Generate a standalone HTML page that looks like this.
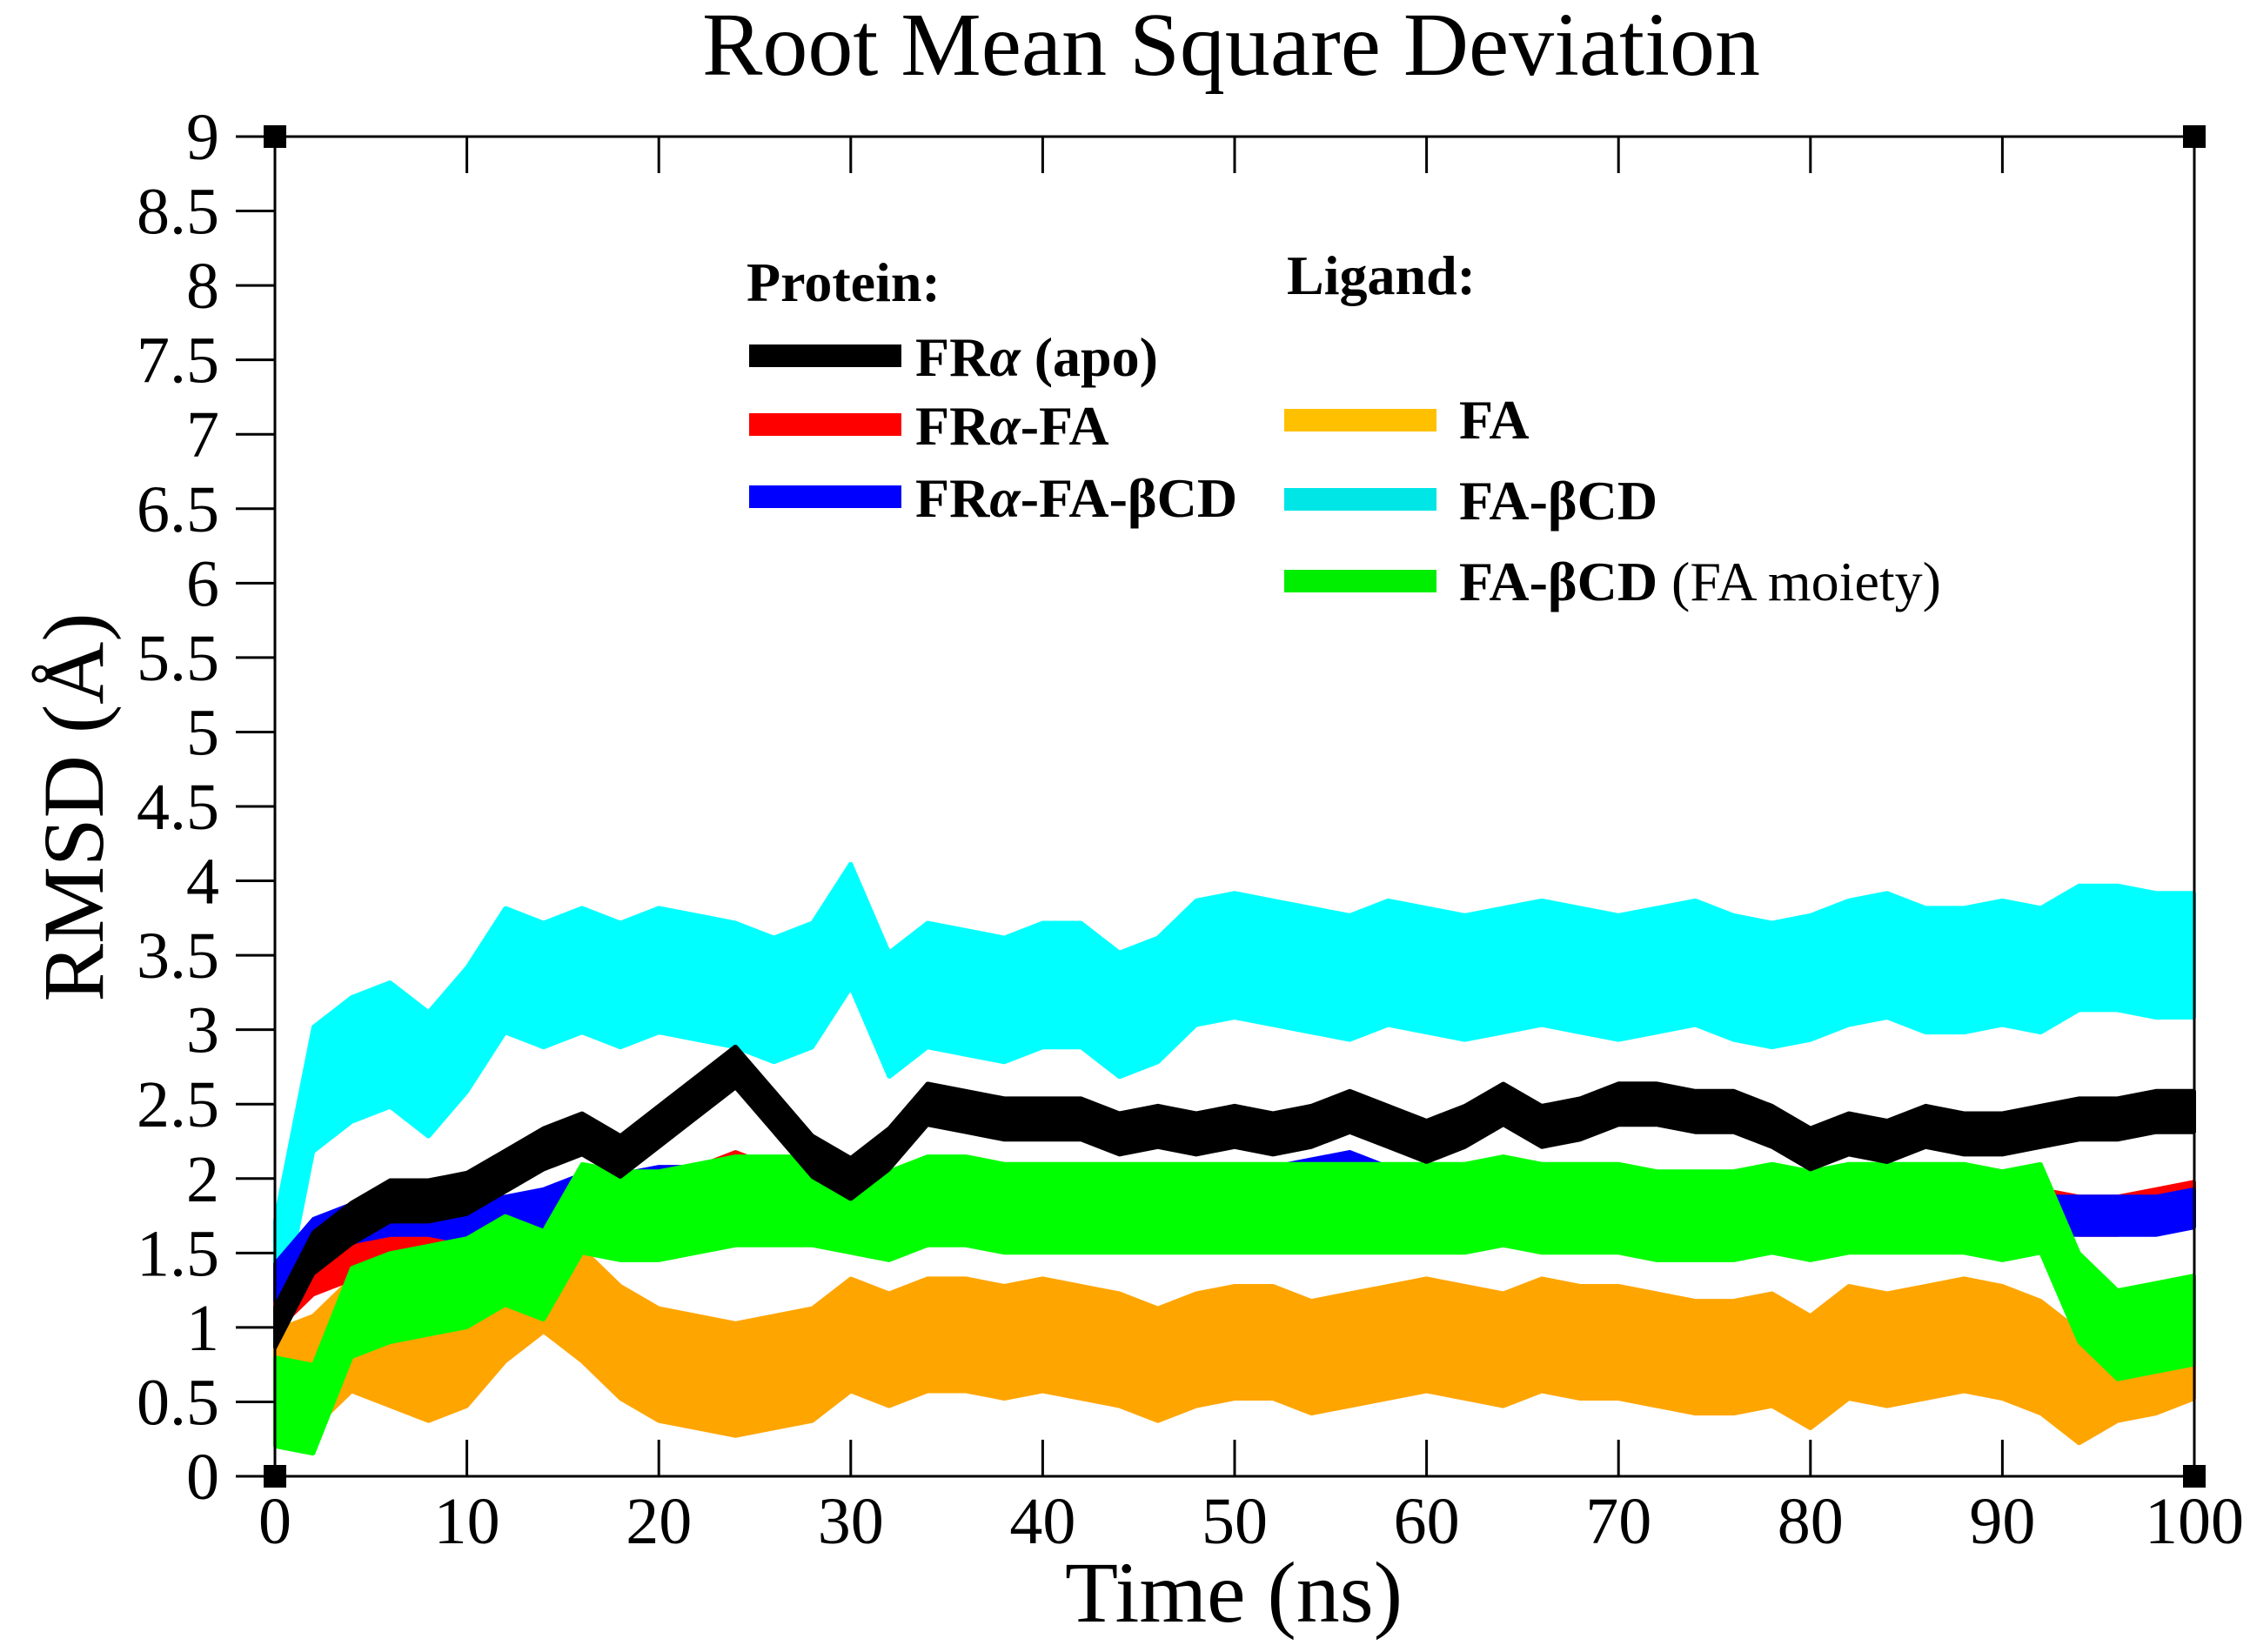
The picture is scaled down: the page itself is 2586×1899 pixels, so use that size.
<!DOCTYPE html>
<html><head><meta charset="utf-8"><style>
html,body{margin:0;padding:0;background:#fff}
svg{display:block}
text{font-family:"Liberation Serif",serif;fill:#000}
</style></head><body>
<svg id="chart" width="2586" height="1899" viewBox="0 0 2586 1899" xmlns="http://www.w3.org/2000/svg">
<text x="1415" y="86" font-size="104" text-anchor="middle">Root Mean Square Deviation</text>
<g id="series"></g>
<g id="axes"></g>
<text x="1418" y="1864" font-size="100" text-anchor="middle">Time (ns)</text>
<text transform="translate(118,928) rotate(-90)" font-size="100" text-anchor="middle">RMSD (Å)</text>
<g font-weight="bold" font-size="64">
<text x="858" y="346">Protein:</text>
<text x="1479" y="338">Ligand:</text>
<rect x="861" y="396" width="175" height="26" fill="#000"/>
<text x="1052" y="432">FR<tspan font-style="italic">α</tspan> (apo)</text>
<rect x="861" y="475" width="175" height="26" fill="#ff0000"/>
<text x="1052" y="511">FR<tspan font-style="italic">α</tspan>-FA</text>
<rect x="861" y="558" width="175" height="26" fill="#0000ff"/>
<text x="1052" y="594">FR<tspan font-style="italic">α</tspan>-FA-βCD</text>
<rect x="1476" y="470" width="175" height="26" fill="#ffc000"/>
<text x="1677" y="504">FA</text>
<rect x="1476" y="561" width="175" height="26" fill="#00e5e5"/>
<text x="1677" y="597">FA-βCD</text>
<rect x="1476" y="655" width="175" height="26" fill="#00ee00"/>
<text x="1677" y="690">FA-βCD <tspan font-weight="normal">(FA moiety)</tspan></text>
</g>
</svg>
<script>
const times=[0,2,4,6,8,10,12,14,16,18,20,22,24,26,28,30,32,34,36,38,40,42,44,46,48,50,52,54,56,58,60,62,64,66,68,70,72,74,76,78,80,82,84,86,88,90,92,94,96,98,100];
const cyanMid=[1.3,2.6,2.8,2.9,2.7,3.0,3.4,3.3,3.4,3.3,3.4,3.35,3.3,3.2,3.3,3.7,3.1,3.3,3.25,3.2,3.3,3.3,3.1,3.2,3.45,3.5,3.45,3.4,3.35,3.45,3.4,3.35,3.4,3.45,3.4,3.35,3.4,3.45,3.35,3.3,3.35,3.45,3.5,3.4,3.4,3.45,3.4,3.55,3.55,3.5,3.5];
const blackMid=[1.0,1.5,1.7,1.85,1.85,1.9,2.05,2.2,2.3,2.15,2.35,2.55,2.75,2.45,2.15,2.0,2.2,2.5,2.45,2.4,2.4,2.4,2.3,2.35,2.3,2.35,2.3,2.35,2.45,2.35,2.25,2.35,2.5,2.35,2.4,2.5,2.5,2.45,2.45,2.35,2.2,2.3,2.25,2.35,2.3,2.3,2.35,2.4,2.4,2.45,2.45];
const redMid=[1.1,1.35,1.45,1.55,1.6,1.6,1.65,1.7,1.85,1.85,1.9,1.95,2.05,1.95,1.9,1.85,1.85,1.9,1.85,1.85,1.85,1.85,1.85,1.85,1.85,1.85,1.85,1.85,1.85,1.85,1.85,1.85,1.85,1.85,1.85,1.85,1.8,1.8,1.7,1.75,1.8,1.85,1.85,1.85,1.85,1.85,1.8,1.75,1.75,1.8,1.85];
const blueMid=[1.3,1.6,1.7,1.75,1.75,1.7,1.75,1.8,1.9,1.9,1.95,1.95,2.0,1.95,1.9,1.9,1.9,1.95,1.9,1.9,1.9,1.9,1.9,1.9,1.9,1.9,1.95,2.0,2.05,1.95,1.95,1.9,1.9,1.9,1.9,1.9,1.85,1.85,1.8,1.9,1.85,1.9,1.85,1.9,1.85,1.85,1.75,1.75,1.75,1.75,1.8];
const greenMid=[0.5,0.45,1.1,1.2,1.25,1.3,1.45,1.35,1.8,1.75,1.75,1.8,1.85,1.85,1.85,1.8,1.75,1.85,1.85,1.8,1.8,1.8,1.8,1.8,1.8,1.8,1.8,1.8,1.8,1.8,1.8,1.8,1.85,1.8,1.8,1.8,1.75,1.75,1.75,1.8,1.75,1.8,1.8,1.8,1.8,1.75,1.8,1.2,0.95,1.0,1.05];
const orangeMid=[0.6,0.7,0.95,0.85,0.75,0.85,1.15,1.35,1.15,0.9,0.75,0.7,0.65,0.7,0.75,0.95,0.85,0.95,0.95,0.9,0.95,0.9,0.85,0.75,0.85,0.9,0.9,0.8,0.85,0.9,0.95,0.9,0.85,0.95,0.9,0.9,0.85,0.8,0.8,0.85,0.7,0.9,0.85,0.9,0.95,0.9,0.8,0.6,0.75,0.8,0.9];
const seriesNames=["fa","fa-bcd","fra-fa","fra-fa-bcd","fa-bcd-fa-moiety","fra-apo"];
const seriesSpread=[0.38,0.42,0.13,0.13,0.3,0.14];
const yTickLabels=["0","0.5","1","1.5","2","2.5","3","3.5","4","4.5","5","5.5","6","6.5","7","7.5","8","8.5","9"];
const xTickLabels=["0","10","20","30","40","50","60","70","80","90","100"];

const NS="http://www.w3.org/2000/svg";
const X0=316,X1=2522,Y0=1697,Y1=157;
const xs=t=>X0+(t/100)*(X1-X0);
const ys=v=>Y0-(v/9)*(Y0-Y1);
const mids=[orangeMid,cyanMid,redMid,blueMid,greenMid,blackMid];
const colors=["#ffa500","#00ffff","#ff0000","#0000ff","#00ff00","#000000"];
const sg=document.getElementById('series');
mids.forEach((m,k)=>{
  const s=seriesSpread[k];
  let up=[],dn=[];
  for(let i=0;i<times.length;i++){
    up.push(xs(times[i]).toFixed(1)+','+ys(m[i]+s).toFixed(1));
    dn.push(xs(times[i]).toFixed(1)+','+ys(Math.max(0.15,m[i]-s)).toFixed(1));
  }
  const p=document.createElementNS(NS,'polygon');
  p.setAttribute('points',up.concat(dn.reverse()).join(' '));
  p.setAttribute('fill',colors[k]);
  p.setAttribute('stroke',colors[k]);
  p.setAttribute('stroke-width','4');
  p.setAttribute('stroke-linejoin','bevel');
  
  
  sg.appendChild(p);
});
const ag=document.getElementById('axes');
function line(x1,y1,x2,y2,w,name){
  const l=document.createElementNS(NS,'line');
  l.setAttribute('x1',x1);l.setAttribute('y1',y1);l.setAttribute('x2',x2);l.setAttribute('y2',y2);
  l.setAttribute('stroke','#000');l.setAttribute('stroke-width',w);
  
  
  ag.appendChild(l);
}
line(X0,Y1,X1,Y1,3,'plot-frame-top');
line(X0,Y0,X1,Y0,3,'plot-frame-bottom');
line(X0,Y1,X0,Y0,3,'plot-frame-left');
line(X1,Y1,X1,Y0,3,'plot-frame-right');
yTickLabels.forEach((lab,i)=>{
  const v=parseFloat(lab),y=ys(v);
  line(X0-45,y,X0,y,3,'y-tick');
  const t=document.createElementNS(NS,'text');
  t.setAttribute('x',252);t.setAttribute('y',y+26);
  t.setAttribute('font-size','76');t.setAttribute('text-anchor','end');
  t.textContent=lab;
  
  
  ag.appendChild(t);
});
xTickLabels.forEach((lab,i)=>{
  const v=parseFloat(lab),x=xs(v);
  if(v>0&&v<100){line(x,Y1,x,Y1+42,3,'x-tick-top');line(x,Y0,x,Y0-42,3,'x-tick-bottom');}
  const t=document.createElementNS(NS,'text');
  t.setAttribute('x',x);t.setAttribute('y',1774);
  t.setAttribute('font-size','76');t.setAttribute('text-anchor','middle');
  t.textContent=lab;
  
  
  ag.appendChild(t);
});
[[X0,Y1],[X1,Y1],[X0,Y0],[X1,Y0]].forEach(c=>{
  const r=document.createElementNS(NS,'rect');
  r.setAttribute('x',c[0]-13);r.setAttribute('y',c[1]-13);r.setAttribute('width',26);r.setAttribute('height',26);
  r.setAttribute('fill','#000');
  
  
  ag.appendChild(r);
});
</script>
</body></html>
